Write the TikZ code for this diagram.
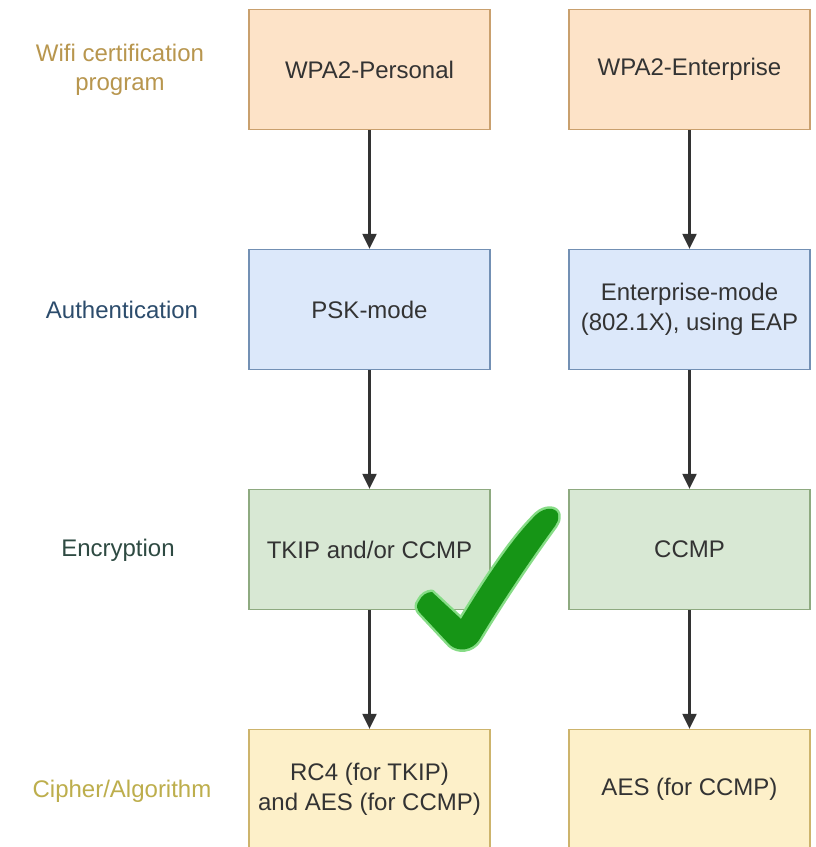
\documentclass[tikz,border=0pt]{standalone}
\usepackage{fontspec}
\setmainfont{Liberation Sans}
\usetikzlibrary{arrows.meta}
\definecolor{orfill}{HTML}{FDE3C8}
\definecolor{ordraw}{HTML}{C9A06E}
\definecolor{blfill}{HTML}{DCE8FA}
\definecolor{bldraw}{HTML}{7390B4}
\definecolor{grfill}{HTML}{D8E8D4}
\definecolor{grdraw}{HTML}{8EAA80}
\definecolor{yefill}{HTML}{FDF0C9}
\definecolor{yedraw}{HTML}{CDB46C}
\definecolor{lblorange}{HTML}{B8964E}
\definecolor{lblblue}{HTML}{2C4C6C}
\definecolor{lblgreen}{HTML}{2E4A42}
\definecolor{lblyellow}{HTML}{BDAE4C}
\definecolor{txt}{HTML}{333333}
\definecolor{arr}{HTML}{333333}
\definecolor{tick}{HTML}{169516}
\definecolor{tickglow}{HTML}{86DC86}
\tikzset{
  box/.style={draw, line width=1.3pt, minimum width=241pt, minimum height=120pt,
    inner sep=0pt, align=center, text=txt,
    font=\fontsize{24}{30}\selectfont},
  orbox/.style={box, fill=orfill, draw=ordraw},
  blbox/.style={box, fill=blfill, draw=bldraw},
  grbox/.style={box, fill=grfill, draw=grdraw},
  yebox/.style={box, fill=yefill, draw=yedraw},
  rowlabel/.style={align=center, inner sep=0pt, font=\fontsize{24}{29}\selectfont},
  flow/.style={draw=arr, line width=2.2pt, -{Triangle[width=14pt,length=15pt]}}
}
\begin{document}
\begin{tikzpicture}[x=1pt, y=-1pt]
  \useasboundingbox (0,0) rectangle (815,847);
  \clip (0,0) rectangle (815,847);
  \fill[white] (0,0) rectangle (815,847);

  % row labels
  \node[rowlabel, text=lblorange] (l1) at (120,70) {Wifi certification\\program};
  \node[rowlabel, text=lblblue]   (l2) at (122,310) {Authentication};
  \node[rowlabel, text=lblgreen]  (l3) at (118,550) {Encryption};
  \node[rowlabel, text=lblyellow] (l4) at (122,791) {Cipher/Algorithm};

  % WPA2-Personal column
  \node[orbox] (p1) at (369.5,69.5)  {WPA2-Personal};
  \node[blbox] (p2) at (369.5,309.5) {PSK-mode};
  \node[grbox] (p3) at (369.5,549.5) {TKIP and/or CCMP};
  \node[yebox] (p4) at (369.5,789.5) {RC4 (for TKIP)\\and AES (for CCMP)};

  % WPA2-Enterprise column
  \node[orbox] (e1) at (689.5,69.5)  {WPA2-Enterprise};
  \node[blbox] (e2) at (689.5,309.5) {Enterprise-mode\\(802.1X), using EAP};
  \node[grbox] (e3) at (689.5,549.5) {CCMP};
  \node[yebox] (e4) at (689.5,789.5) {AES (for CCMP)};

  % connectors
  \draw[flow] (p1) -- (p2);
  \draw[flow] (p2) -- (p3);
  \draw[flow] (p3) -- (p4);
  \draw[flow] (e1) -- (e2);
  \draw[flow] (e2) -- (e3);
  \draw[flow] (e3) -- (e4);

  % green tick mark
  \def\tickpath{(419,601) .. controls (422,595) and (427,592) .. (432,592)
    -- (461,619)
    .. controls (485,580) and (512,538) .. (537,514)
    .. controls (545,507) and (556,507) .. (558,514)
    .. controls (559,520) and (557,523) .. (555,526)
    .. controls (530,560) and (500,605) .. (479,640)
    .. controls (472,651) and (458,652) .. (450,645)
    -- (421,614)
    .. controls (416,609) and (416,605) .. (419,601) -- cycle}
  \draw[draw=tickglow, line width=5pt, line join=round, fill=tickglow] \tickpath;
  \fill[tick] \tickpath;
\end{tikzpicture}
\end{document}
